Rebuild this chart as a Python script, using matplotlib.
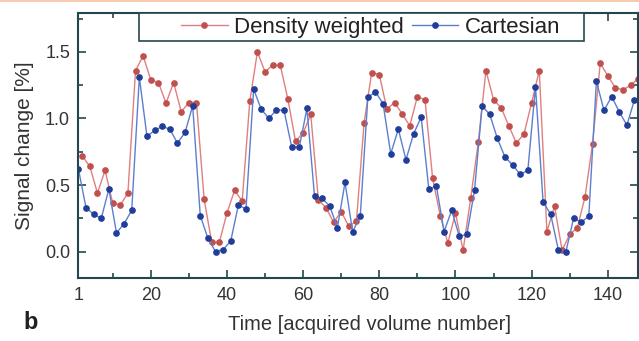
import matplotlib.pyplot as plt
from matplotlib.ticker import MultipleLocator, FixedLocator
from matplotlib.patches import Rectangle

plt.rcParams['font.family'] = ['Liberation Sans', 'DejaVu Sans']

# Cartesian acquired on odd volumes, density weighted on even volumes
cart_x = list(range(1, 148, 2))
cart_y = [0.62, 0.33, 0.28, 0.25, 0.47, 0.14, 0.21, 0.31, 1.31, 0.865,
          0.91, 0.94, 0.92, 0.815, 0.895, 1.095, 0.27, 0.10, 0.00, 0.015,
          0.08, 0.35, 0.32, 1.22, 1.07, 1.00, 1.065, 1.06, 0.785, 0.785,
          1.075, 0.415, 0.40, 0.34, 0.18, 0.52, 0.15, 0.265, 1.16, 1.20,
          1.11, 0.735, 0.92, 0.69, 0.885, 1.01, 0.47, 0.49, 0.15, 0.31,
          0.115, 0.13, 0.46, 1.095, 1.03, 0.85, 0.71, 0.65, 0.58, 0.61,
          1.24, 0.375, 0.28, 0.015, 0.00, 0.25, 0.22, 0.265, 1.28, 1.06,
          1.165, 1.05, 0.95, 1.14]

dens_x = list(range(2, 149, 2))
dens_y = [0.72, 0.64, 0.44, 0.61, 0.365, 0.35, 0.44, 1.36, 1.47, 1.29,
          1.27, 1.115, 1.27, 1.05, 1.12, 1.12, 0.395, 0.07, 0.07, 0.29,
          0.46, 0.38, 1.13, 1.50, 1.35, 1.40, 1.40, 1.145, 0.83, 0.89,
          1.03, 0.39, 0.33, 0.22, 0.30, 0.19, 0.23, 0.965, 1.345, 1.33,
          1.07, 1.12, 1.035, 0.945, 1.165, 1.14, 0.55, 0.27, 0.065, 0.29,
          0.01, 0.40, 0.825, 1.36, 1.14, 1.08, 0.945, 0.815, 0.885, 1.12,
          1.36, 0.15, 0.34, 0.01, 0.13, 0.18, 0.41, 0.81, 1.415, 1.32,
          1.23, 1.215, 1.25, 1.30]

x_ticks = [1, 20, 40, 60, 80, 100, 120, 140]

spine_col = '#24474f'
text_col = '#333333'

fig = plt.figure(figsize=(6.39, 3.41), dpi=100)
ax = fig.add_axes([0.1227, 0.184, 0.8762, 0.777])

ax.plot(dens_x, dens_y, color='#e07f7f', lw=1.0, marker='o', ms=3.8,
        mfc='#c0504d', mec='#c0504d', label='Density weighted')
ax.plot(cart_x, cart_y, color='#5b7fd0', lw=1.0, marker='o', ms=3.8,
        mfc='#1f3d99', mec='#1f3d99', label='Cartesian')

ax.set_xlim(1, 148)
ax.set_ylim(-0.2, 1.79)
ax.xaxis.set_major_locator(FixedLocator(x_ticks))
ax.xaxis.set_minor_locator(FixedLocator([10, 30, 50, 70, 90, 110, 130]))
ax.yaxis.set_major_locator(MultipleLocator(0.5))
ax.yaxis.set_minor_locator(MultipleLocator(0.25))
ax.set_yticks([0.0, 0.5, 1.0, 1.5])
ax.set_yticklabels(['0.0', '0.5', '1.0', '1.5'])

ax.tick_params(which='both', direction='in', top=True, right=True,
               color=spine_col, labelcolor=text_col, labelsize=13, width=1.2)
ax.tick_params(which='major', length=6, pad=6)
ax.tick_params(which='minor', length=3.5)
for s in ax.spines.values():
    s.set_color(spine_col)
    s.set_linewidth(1.5)

ax.set_ylabel('Signal change [%]', fontsize=15, color=text_col, labelpad=8)
ax.set_xlabel('Time [acquired volume number]', fontsize=14.5, color=text_col, labelpad=8)
ax.xaxis.label.set_x(0.52)

# legend box drawn by hand (wide left padding as in the original)
ax.add_patch(Rectangle((0.108, 0.895), 0.795, 0.105, transform=ax.transAxes,
                       fill=True, facecolor='white', edgecolor=spine_col,
                       lw=1.2, zorder=5))
leg = ax.legend(loc='center left', ncol=2, fontsize=16, frameon=False,
                borderaxespad=0, borderpad=0, bbox_to_anchor=(0.183, 0.947),
                handlelength=2.1, columnspacing=0.35, handletextpad=0.3)
leg.set_zorder(6)
for t in leg.get_texts():
    t.set_color('#222222')

fig.text(0.036, 0.035, 'b', fontsize=17, fontweight='bold', color='#222222')
fig.add_artist(Rectangle((0, 0.993), 1, 0.007, transform=fig.transFigure,
                         color='#f6cbb0', lw=0))

plt.savefig('out.png', dpi=100)
